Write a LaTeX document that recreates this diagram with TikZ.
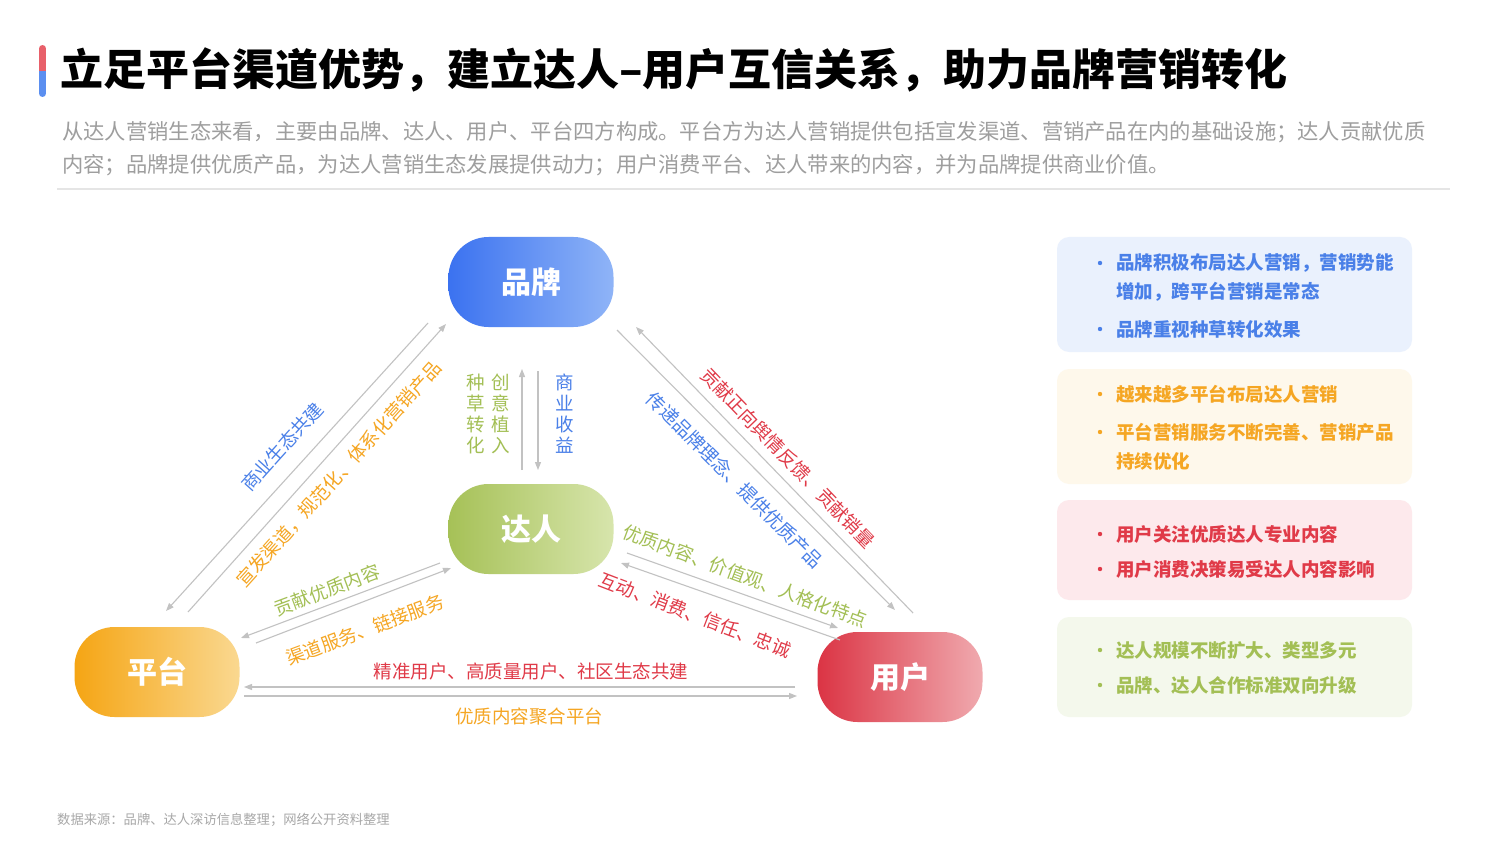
\documentclass[tikz,border=0pt]{standalone}
\usepackage{fontspec}
\setmainfont{Noto Sans CJK SC}
\usetikzlibrary{arrows.meta}
\definecolor{brandL}{HTML}{3B72F0}
\definecolor{brandR}{HTML}{8FB4F7}
\definecolor{darenL}{HTML}{A6C157}
\definecolor{darenR}{HTML}{D7E5AC}
\definecolor{platL}{HTML}{F5A514}
\definecolor{platR}{HTML}{FAD890}
\definecolor{userL}{HTML}{DB3444}
\definecolor{userR}{HTML}{F0AAAF}
\definecolor{arrgray}{HTML}{C2C2C2}
\definecolor{tblue}{HTML}{4A80E8}
\definecolor{torange}{HTML}{F5A623}
\definecolor{tgreen}{HTML}{A3BF55}
\definecolor{tred}{HTML}{E03A48}
\definecolor{subgray}{HTML}{9E9E9E}
\definecolor{foot}{HTML}{A8A8A8}
\definecolor{boxblue}{HTML}{EAF1FD}
\definecolor{boxorange}{HTML}{FEF8EB}
\definecolor{boxred}{HTML}{FDE9EC}
\definecolor{boxgreen}{HTML}{F4F8EC}
\definecolor{barred}{HTML}{E8606A}
\definecolor{barblue}{HTML}{5B8FF0}
\begin{document}
\begin{tikzpicture}[x=1pt,y=-1pt,
  arr/.style={draw=arrgray, line width=1.1pt, -{Triangle[length=8pt,width=6pt]}},
  pill/.style={rounded corners=40pt, minimum width=165pt, minimum height=90pt, inner sep=0pt, text=white, font=\bfseries\fontsize{30}{36}\selectfont},
  lab/.style={inner sep=0pt, font=\fontsize{18.5}{18.5}\selectfont},
  vlab/.style={inner sep=0pt, align=center, font=\fontsize{18.5}{21}\selectfont},
  infobox/.style={rounded corners=12pt},
  info/.style={anchor=west, inner sep=0pt, font=\bfseries\fontsize{18.5}{18.5}\selectfont}]
\useasboundingbox (0,0) rectangle (1511,850);
\fill[white] (0,0) rectangle (1511,850);
% accent bar
\begin{scope}
\clip[rounded corners=3.5pt] (39,45) rectangle (46,97);
\fill[barred] (39,45) rectangle (46,71);
\fill[barblue] (39,71) rectangle (46,97);
\end{scope}
% title
\node[anchor=west, inner sep=0pt, font=\bfseries\fontsize{43}{43}\selectfont] (title) at (60,70) {立足平台渠道优势，建立达人–用户互信关系，助力品牌营销转化};
\node[anchor=west, inner sep=0pt, text=subgray, font=\fontsize{21.3}{21.3}\selectfont] (sub1) at (62,132) {从达人营销生态来看，主要由品牌、达人、用户、平台四方构成。平台方为达人营销提供包括宣发渠道、营销产品在内的基础设施；达人贡献优质};
\node[anchor=west, inner sep=0pt, text=subgray, font=\fontsize{21.3}{21.3}\selectfont] (sub2) at (62,165) {内容；品牌提供优质产品，为达人营销生态发展提供动力；用户消费平台、达人带来的内容，并为品牌提供商业价值。};
\draw[color=black!10, line width=1.2pt] (57,189) -- (1450,189);
% main nodes
\node[pill, left color=brandL, right color=brandR] (brand) at (531,282) {品牌};
\node[pill, left color=darenL, right color=darenR] (daren) at (531,529) {达人};
\node[pill, left color=platL, right color=platR] (plat) at (157,672) {平台};
\node[pill, left color=userL, right color=userR] (user) at (900,677) {用户};
% connector end points
\coordinate (l1s) at (428,323); \coordinate (l1e) at (166,611);
\coordinate (l2s) at (188,612); \coordinate (l2e) at (446,324);
\coordinate (lb1s) at (440,563); \coordinate (lb1e) at (241,638);
\coordinate (lb2s) at (256,643); \coordinate (lb2e) at (451,568);
\coordinate (rt1s) at (617,330); \coordinate (rt1e) at (895,610);
\coordinate (rt2s) at (913,613); \coordinate (rt2e) at (636,327);
\coordinate (rb1s) at (627,553); \coordinate (rb1e) at (838,628);
\coordinate (rb2s) at (840,640); \coordinate (rb2e) at (621,563);
\coordinate (b1s) at (795,687); \coordinate (b1e) at (244,687);
\coordinate (b2s) at (244,696); \coordinate (b2e) at (797,696);
\coordinate (v1s) at (522,470); \coordinate (v1e) at (522,369);
\coordinate (v2s) at (538,371); \coordinate (v2e) at (538,470);
\draw[arr] (l1s) -- (l1e);
\draw[arr] (l2s) -- (l2e);
\draw[arr] (lb1s) -- (lb1e);
\draw[arr] (lb2s) -- (lb2e);
\draw[arr] (rt1s) -- (rt1e);
\draw[arr] (rt2s) -- (rt2e);
\draw[arr] (rb1s) -- (rb1e);
\draw[arr] (rb2s) -- (rb2e);
\draw[arr] (b1s) -- (b1e);
\draw[arr] (b2s) -- (b2e);
\draw[arr] (v1s) -- (v1e);
\draw[arr] (v2s) -- (v2e);
% labels
\node[lab, text=tblue, rotate=48] (t1) at (282,447) {商业生态共建};
\node[lab, text=torange, rotate=48] (t2) at (339,474) {宣发渠道，规范化、体系化营销产品};
\node[lab, text=tgreen, rotate=20.5] (t3) at (327,590) {贡献优质内容};
\node[lab, text=torange, rotate=20.5] (t4) at (365,630) {渠道服务、链接服务};
\node[lab, text=tred, rotate=-46] (t5) at (788,458) {贡献正向舆情反馈、贡献销量};
\node[lab, text=tblue, rotate=-45] (t6) at (735,480) {传递品牌理念、提供优质产品};
\node[lab, text=tgreen, rotate=-20.5] (t7) at (745,576) {优质内容、价值观、人格化特点};
\node[lab, text=tred, rotate=-21] (t8) at (695,615) {互动、消费、信任、忠诚};
\node[lab, text=tred] (t9) at (531,671) {精准用户、高质量用户、社区生态共建};
\node[lab, text=torange] (t10) at (529,716) {优质内容聚合平台};
\node[vlab, text=tgreen] (t11) at (476,414) {种\\草\\转\\化};
\node[vlab, text=tgreen] (t12) at (501,414) {创\\意\\植\\入};
\node[vlab, text=tblue] (t13) at (565,414) {商\\业\\收\\益};
% info boxes
\fill[infobox, boxblue] (1057,237) rectangle (1412,352);
\fill[infobox, boxorange] (1057,369) rectangle (1412,484);
\fill[infobox, boxred] (1057,500) rectangle (1412,600);
\fill[infobox, boxgreen] (1057,617) rectangle (1412,717);
\fill[tblue] (1100,263) circle (2.2pt);
\fill[tblue] (1100,329) circle (2.2pt);
\node[info, text=tblue] (i1) at (1116,263) {品牌积极布局达人营销，营销势能};
\node[info, text=tblue] (i2) at (1116,292) {增加，跨平台营销是常态};
\node[info, text=tblue] (i3) at (1116,329) {品牌重视种草转化效果};
\fill[torange] (1100,394) circle (2.2pt);
\fill[torange] (1100,432) circle (2.2pt);
\node[info, text=torange] (i4) at (1116,394) {越来越多平台布局达人营销};
\node[info, text=torange] (i5) at (1116,432) {平台营销服务不断完善、营销产品};
\node[info, text=torange] (i6) at (1116,461) {持续优化};
\fill[tred] (1100,534) circle (2.2pt);
\fill[tred] (1100,569) circle (2.2pt);
\node[info, text=tred] (i7) at (1116,534) {用户关注优质达人专业内容};
\node[info, text=tred] (i8) at (1116,569) {用户消费决策易受达人内容影响};
\fill[tgreen] (1100,650) circle (2.2pt);
\fill[tgreen] (1100,685) circle (2.2pt);
\node[info, text=tgreen] (i9) at (1116,650) {达人规模不断扩大、类型多元};
\node[info, text=tgreen] (i10) at (1116,685) {品牌、达人合作标准双向升级};
% footer
\node[anchor=west, inner sep=0pt, text=foot, font=\fontsize{13.3}{13.3}\selectfont] (footer) at (57,820) {数据来源：品牌、达人深访信息整理；网络公开资料整理};
\end{tikzpicture}
\end{document}
